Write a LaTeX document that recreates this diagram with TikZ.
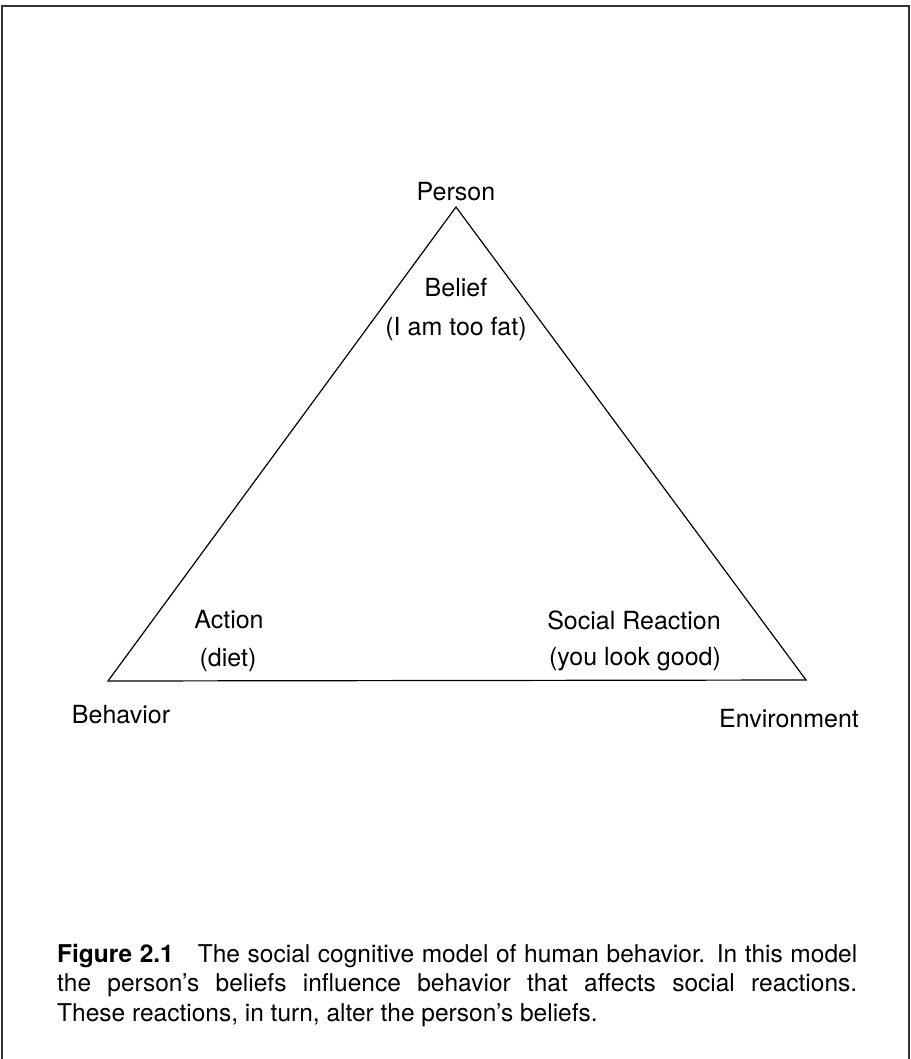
\documentclass[tikz,border=0pt]{standalone}
\usepackage{fontspec}
\setmainfont{TeX Gyre Heros}
\begin{document}
\begin{tikzpicture}[x=1pt,y=-1pt,
  term/.style={font=\fontsize{25}{30}\selectfont, inner sep=0pt, anchor=base},
  side/.style={line width=1.2pt, black, line join=miter},
  outline/.style={line width=1.4pt, black!80},
  captiontext/.style={font=\fontsize{24.5}{29.5}\selectfont, inner sep=0pt,
    anchor=north west, text width=800pt, align=justify}]
\useasboundingbox (0,0) rectangle (910,1059);

% open frame (no bottom rule)
\draw[outline] (2,1059) -- (2,6) -- (909,6) -- (909,1059);

% corners of the triangle
\coordinate (P) at (456,207);
\coordinate (B) at (108,681);
\coordinate (E) at (806,680);
\draw[side] (P) -- (B) -- (E) -- cycle;

% vertex names
\node[term] (person) at (456,200.5) {Person};
\node[term] (behavior) at (121,723) {Behavior};
\node[term] (environment) at (789,727) {Environment};

% inner labels
\node[term] (belief) at (456,296) {Belief};
\node[term] (beliefex) at (456,335.5) {(I am too fat)};
\node[term] (action) at (229,628.5) {Action};
\node[term] (actionex) at (228,666) {(diet)};
\node[term] (reaction) at (634,629.5) {Social Reaction};
\node[term] (reactionex) at (635,665.5) {(you look good)};

% caption
\node[captiontext] (caption) at (57,944) {{\bfseries Figure 2.1}\hspace{24pt}The social cognitive model of human behavior.  In this model\linebreak
the person's beliefs influence behavior that affects social reactions.\linebreak
These reactions, in turn, alter the person's beliefs.};
\end{tikzpicture}
\end{document}
